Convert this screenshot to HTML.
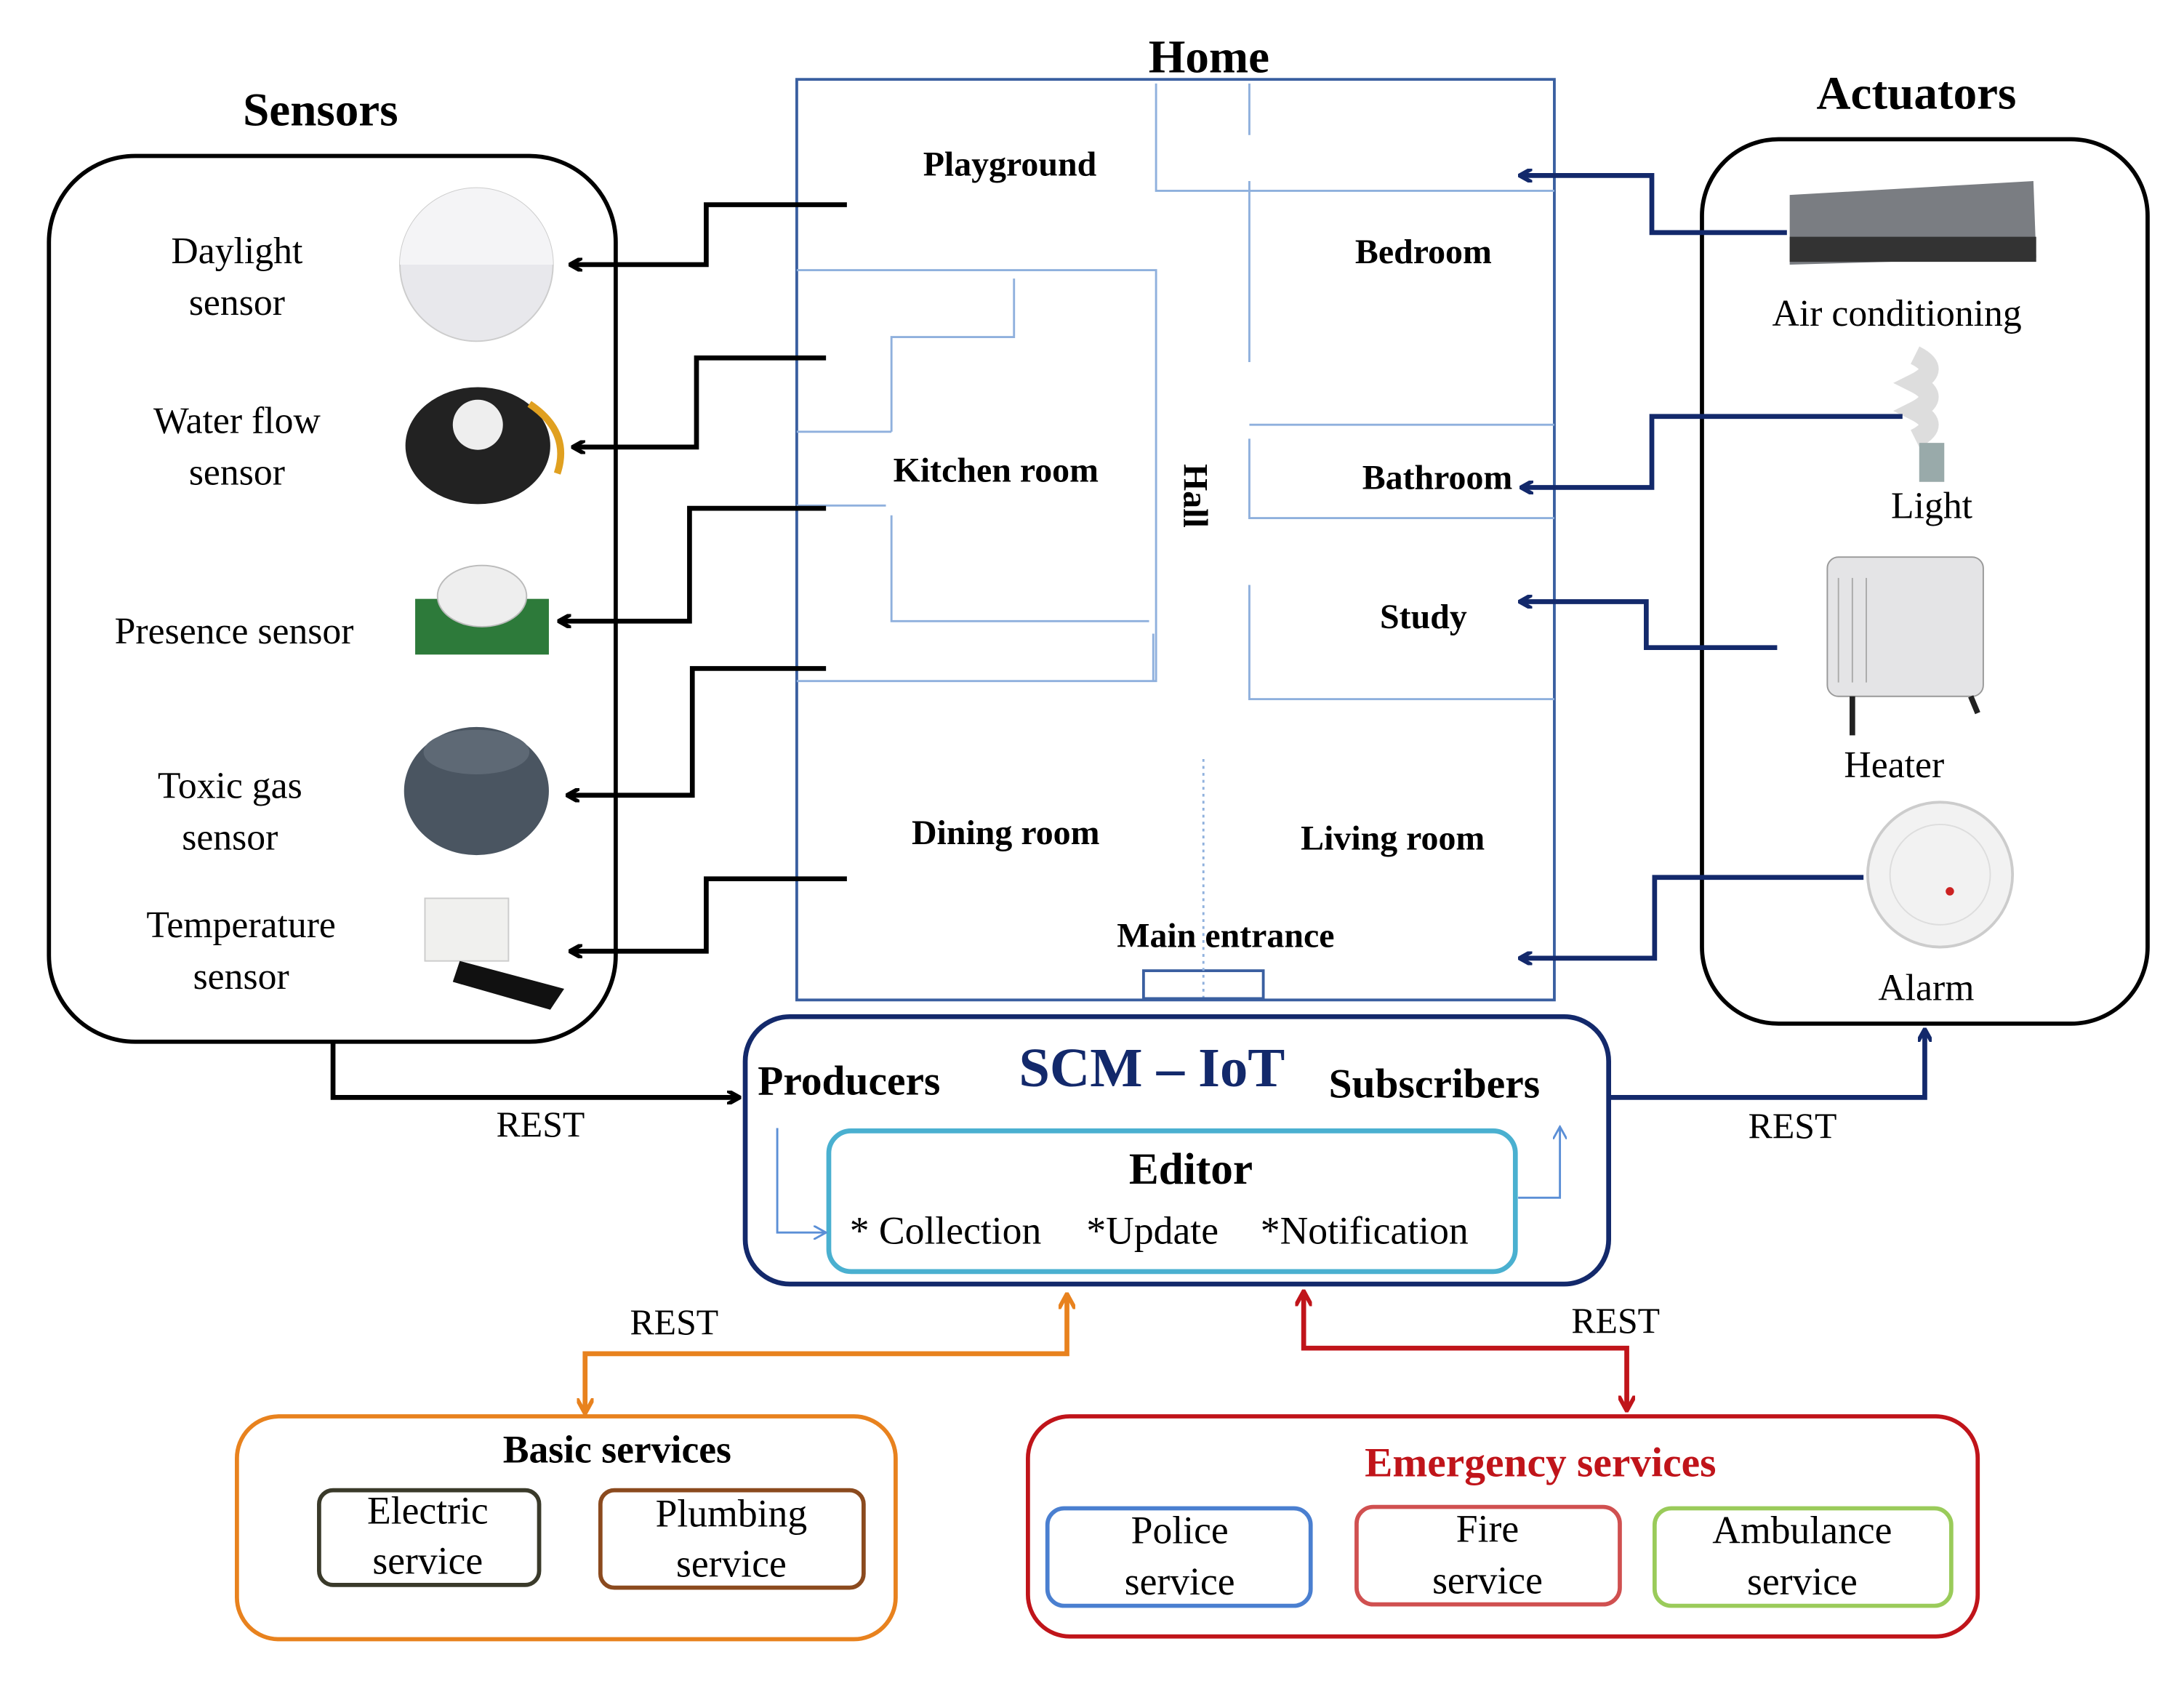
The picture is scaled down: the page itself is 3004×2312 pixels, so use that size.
<!DOCTYPE html>
<html><head><meta charset="utf-8"><style>html,body{margin:0;padding:0;background:#fff}svg{display:block}</style></head><body>
<svg width="3004" height="2312" viewBox="0 0 1568 1207" xmlns="http://www.w3.org/2000/svg" font-family="Liberation Serif, serif">
<defs>
<marker id="ab" markerWidth="10" markerHeight="10" refX="8" refY="5" orient="auto" markerUnits="userSpaceOnUse"><path d="M0,0 L9,5 L0,10" fill="none" stroke="#000" stroke-width="3"/></marker>
<marker id="an" markerWidth="10" markerHeight="10" refX="8" refY="5" orient="auto" markerUnits="userSpaceOnUse"><path d="M0,0 L9,5 L0,10" fill="none" stroke="#13296b" stroke-width="3"/></marker>
<marker id="ao" markerWidth="12" markerHeight="12" refX="10" refY="6" orient="auto-start-reverse" markerUnits="userSpaceOnUse"><path d="M0,0 L11,6 L0,12" fill="none" stroke="#e8821e" stroke-width="3"/></marker>
<marker id="ar" markerWidth="12" markerHeight="12" refX="10" refY="6" orient="auto-start-reverse" markerUnits="userSpaceOnUse"><path d="M0,0 L11,6 L0,12" fill="none" stroke="#c0141a" stroke-width="3"/></marker>
<marker id="al" markerWidth="10" markerHeight="10" refX="8" refY="5" orient="auto" markerUnits="userSpaceOnUse"><path d="M0,0 L9,5 L0,10" fill="none" stroke="#5b8fd6" stroke-width="1.5"/></marker>
</defs>
<g font-weight="bold" font-size="34" text-anchor="middle">
<text x="230" y="90">Sensors</text><text x="868" y="52">Home</text><text x="1376" y="78">Actuators</text></g>
<rect x="35" y="112" width="407" height="636" rx="62" fill="none" stroke="#000" stroke-width="3"/>
<rect x="1222" y="100" width="320" height="635" rx="55" fill="none" stroke="#000" stroke-width="3"/>
<g font-size="27" text-anchor="middle">
<text x="170" y="189">Daylight</text><text x="170" y="226">sensor</text>
<text x="170" y="311">Water flow</text><text x="170" y="348">sensor</text>
<text x="168" y="462">Presence sensor</text>
<text x="165" y="573">Toxic gas</text><text x="165" y="610">sensor</text>
<text x="173" y="673">Temperature</text><text x="173" y="710">sensor</text>
<text x="1362" y="234">Air conditioning</text><text x="1387" y="372">Light</text>
<text x="1360" y="558">Heater</text><text x="1383" y="718">Alarm</text></g>
<!-- sensor icons -->
<circle cx="342" cy="190" r="55" fill="#e8e8ec" stroke="#ccc"/><path d="M287,190 A55,55 0 0 1 397,190Z" fill="#f4f4f6"/>
<ellipse cx="343" cy="320" rx="52" ry="42" fill="#222"/><circle cx="343" cy="305" r="18" fill="#eee"/><path d="M380,290 q30,20 20,50" stroke="#e0a020" stroke-width="5" fill="none"/>
<rect x="298" y="430" width="96" height="40" fill="#2d7a3a"/><ellipse cx="346" cy="428" rx="32" ry="22" fill="#eee" stroke="#bbb"/>
<ellipse cx="342" cy="568" rx="52" ry="46" fill="#4a5561"/><ellipse cx="342" cy="540" rx="38" ry="16" fill="#5e6975"/>
<rect x="305" y="645" width="60" height="45" fill="#f0f0ee" stroke="#ccc"/><path d="M330,690 L405,710 L395,725 L325,705Z" fill="#111"/>
<!-- actuator icons -->
<path d="M1285,140 L1460,130 L1462,185 L1285,190Z" fill="#7a7d82"/><rect x="1285" y="170" width="177" height="18" fill="#333"/>
<path d="M1375,255 q20,10 0,20 q20,10 0,20 q20,10 0,20" stroke="#ddd" stroke-width="14" fill="none"/><rect x="1378" y="318" width="18" height="28" fill="#9aa"/>
<rect x="1312" y="400" width="112" height="100" rx="8" fill="#e4e4e6" stroke="#999"/><g stroke="#aaa"><line x1="1320" y1="415" x2="1320" y2="490"/><line x1="1330" y1="415" x2="1330" y2="490"/><line x1="1340" y1="415" x2="1340" y2="490"/></g>
<line x1="1330" y1="500" x2="1330" y2="528" stroke="#222" stroke-width="4"/><line x1="1415" y1="500" x2="1420" y2="512" stroke="#222" stroke-width="4"/>
<circle cx="1393" cy="628" r="52" fill="#f2f2f2" stroke="#ccc" stroke-width="2"/><circle cx="1393" cy="628" r="36" fill="none" stroke="#ddd"/><circle cx="1400" cy="640" r="3" fill="#c22"/>
<!-- home -->
<rect x="572" y="57" width="544" height="661" fill="none" stroke="#3a5fa0" stroke-width="2"/>
<g stroke="#8fb0dd" stroke-width="1.5" fill="none">
<path d="M830,60 V137 H1116"/><path d="M897,60 V97"/><path d="M897,130 V260"/>
<path d="M572,194 H830 V489 H572"/><path d="M728,200 V242 H640 V310"/><path d="M572,310 H640"/>
<path d="M572,363 H636"/><path d="M640,370 V446 H825"/><path d="M828,455 V489"/>
<path d="M897,305 H1116"/><path d="M897,315 V372 H1116"/><path d="M897,420 V502 H1116"/>
<rect x="821" y="697" width="86" height="20" stroke="#3a5fa0" stroke-width="2"/>
</g>
<line x1="864" y1="545" x2="864" y2="716" stroke="#8fb0dd" stroke-width="1.5" stroke-dasharray="2,3"/>
<g font-weight="bold" font-size="25" text-anchor="middle">
<text x="725" y="126">Playground</text><text x="1022" y="189">Bedroom</text>
<text x="715" y="346">Kitchen room</text><text x="1032" y="351">Bathroom</text>
<text x="1022" y="451">Study</text><text x="722" y="606">Dining room</text>
<text x="1000" y="610">Living room</text><text x="880" y="680">Main entrance</text>
<text transform="translate(850,356) rotate(90)">Hall</text></g>
<!-- sensor arrows -->
<g stroke="#000" stroke-width="3.5" fill="none" marker-end="url(#ab)">
<path d="M608,147 H507 V190 H410"/><path d="M593,257 H500 V321 H412"/>
<path d="M593,365 H495 V446 H402"/><path d="M593,480 H497 V571 H408"/>
<path d="M608,631 H507 V683 H410"/>
<path d="M239,748 V788 H530"/></g>
<g stroke="#13296b" stroke-width="3.5" fill="none" marker-end="url(#an)">
<path d="M1283,167 H1186 V126 H1092"/><path d="M1366,299 H1186 V350 H1093"/>
<path d="M1276,465 H1182 V432 H1092"/><path d="M1338,630 H1188 V688 H1092"/>
<path d="M1155,788 H1382 V740"/></g>
<g font-size="26" text-anchor="middle"><text x="388" y="816">REST</text><text x="1287" y="817">REST</text><text x="484" y="958">REST</text><text x="1160" y="957">REST</text></g>
<!-- SCM -->
<rect x="535" y="730" width="620" height="192" rx="32" fill="none" stroke="#13296b" stroke-width="3.5"/>
<text x="827" y="780" font-size="40" font-weight="bold" fill="#13296b" text-anchor="middle">SCM – IoT</text>
<g font-weight="bold" font-size="30"><text x="544" y="786">Producers</text><text x="954" y="788">Subscribers</text></g>
<rect x="595" y="812" width="493" height="101" rx="16" fill="none" stroke="#4ab0d0" stroke-width="3.5"/>
<text x="855" y="850" font-size="32" font-weight="bold" text-anchor="middle">Editor</text>
<g font-size="28"><text x="610" y="893">* Collection</text><text x="780" y="893">*Update</text><text x="905" y="893">*Notification</text></g>
<path d="M558,810 V885 H592" stroke="#5b8fd6" stroke-width="1.5" fill="none" marker-end="url(#al)"/>
<path d="M1090,860 H1120 V810" stroke="#5b8fd6" stroke-width="1.5" fill="none" marker-end="url(#al)"/>
<!-- REST lower arrows -->
<path d="M766,930 V972 H420 V1014" stroke="#e8821e" stroke-width="3.5" fill="none" marker-start="url(#ao)" marker-end="url(#ao)"/>
<path d="M936,928 V968 H1168 V1012" stroke="#c0141a" stroke-width="3.5" fill="none" marker-start="url(#ar)" marker-end="url(#ar)"/>
<!-- service boxes -->
<rect x="170" y="1017" width="473" height="160" rx="30" fill="none" stroke="#e8821e" stroke-width="3"/>
<text x="443" y="1050" font-size="28" font-weight="bold" text-anchor="middle">Basic services</text>
<rect x="229" y="1070" width="158" height="68" rx="10" fill="none" stroke="#3a3a2a" stroke-width="3"/>
<rect x="431" y="1070" width="189" height="70" rx="10" fill="none" stroke="#8b4a1e" stroke-width="3"/>
<rect x="738" y="1017" width="682" height="158" rx="30" fill="none" stroke="#c0141a" stroke-width="3"/>
<text x="1106" y="1060" font-size="30" font-weight="bold" fill="#c0141a" text-anchor="middle">Emergency services</text>
<rect x="752" y="1083" width="189" height="70" rx="12" fill="none" stroke="#4a7fd0" stroke-width="3"/>
<rect x="974" y="1082" width="189" height="70" rx="12" fill="none" stroke="#d05050" stroke-width="3"/>
<rect x="1188" y="1083" width="213" height="70" rx="12" fill="none" stroke="#9acb5a" stroke-width="3"/>
<g font-size="28" text-anchor="middle">
<text x="307" y="1094">Electric</text><text x="307" y="1130">service</text>
<text x="525" y="1096">Plumbing</text><text x="525" y="1132">service</text>
<text x="847" y="1108">Police</text><text x="847" y="1145">service</text>
<text x="1068" y="1107">Fire</text><text x="1068" y="1144">service</text>
<text x="1294" y="1108">Ambulance</text><text x="1294" y="1145">service</text></g>
</svg>
</body></html>
